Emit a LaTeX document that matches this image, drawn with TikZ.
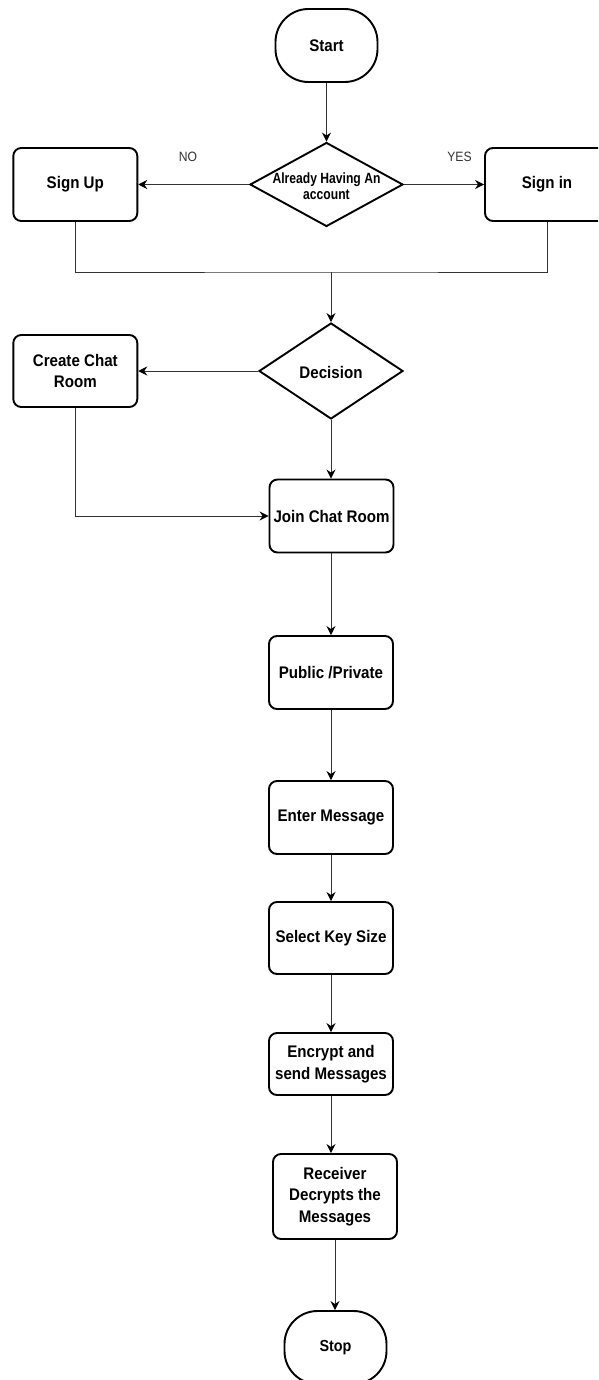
\documentclass[tikz,border=0pt]{standalone}
\usepackage{fontspec}
\setmainfont[FakeStretch=0.9]{Liberation Sans}
\newfontfamily\dfont[FakeStretch=0.82]{Liberation Sans}
\usetikzlibrary{shapes.geometric,arrows.meta}
\definecolor{conn}{HTML}{333333}
\definecolor{labc}{HTML}{333333}
\tikzset{
  box/.style={draw=black, line width=1.9pt, rounded corners=8pt, fill=white,
    minimum width=124pt, minimum height=73pt, inner sep=0pt, align=center,
    font=\fontsize{16.8}{21.5}\selectfont\bfseries},
  term/.style={box, rounded corners=33pt, minimum width=102pt},
  dia/.style={draw=black, line width=1.9pt, diamond, inner sep=0pt, fill=white},
  dtext/.style={align=center, inner sep=0pt, font=\dfont\fontsize{14.8}{16.5}\selectfont\bfseries},
  lab/.style={text=labc, inner sep=0pt, font=\fontsize{13.5}{15}\selectfont},
  conn/.style={draw=conn, line width=1pt},
  arr/.style={conn, -{Stealth[length=9pt,width=9pt,inset=3pt,color=black]}},
}
\begin{document}
\begin{tikzpicture}[x=1pt,y=-1pt]
\clip (0,0) rectangle (598,1380);
\fill[white] (0,0) rectangle (598,1380);
% nodes
\node[term] (start) at (326.5,45.5) {Start};
\node[dia, minimum width=153pt, minimum height=84pt] (d1) at (326.5,184.5) {};
\node[dtext] (d1t) at (326.5,186) {Already Having An\\account};
\node[box] (su) at (75.3,184.5) {Sign Up};
\node[box] (si) at (547,184.5) {Sign in};
\node[lab] (no) at (188,157) {NO};
\node[lab] (yes) at (459.5,157) {YES};
\node[dia, minimum width=144pt, minimum height=96pt] (dec) at (331,371) {};
\node[dtext, font=\fontsize{16.8}{20}\selectfont\bfseries] (dect) at (331,372) {Decision};
\node[box, minimum height=72pt] (ccr) at (75.3,371) {Create Chat\\Room};
\node[box] (join) at (331.5,516) {Join Chat Room};
\node[box] (pp) at (331,672.5) {Public /Private};
\node[box] (em) at (331,817.5) {Enter Message};
\node[box, minimum height=72pt] (ks) at (331,938) {Select Key Size};
\node[box, minimum height=62pt] (enc) at (331,1064) {Encrypt and\\send Messages};
\node[box, minimum height=85pt] (rec) at (335,1196.5) {Receiver\\Decrypts the\\Messages};
\node[term, font=\fontsize{16}{20}\selectfont\bfseries] (stop) at (335.5,1347.5) {Stop};
\coordinate (j) at (331,272);
% connectors
\draw[arr] (start) -- (d1);
\draw[arr] (d1.west) -- (d1.west -| su.east);
\draw[arr] (d1.east) -- (d1.east -| si.west);
\draw[conn] (su.south) |- (j) -| (si.south);
\draw[arr] (j) -- (dec.north);
\draw[arr] (dec.west) -- (dec.west -| ccr.east);
\draw[arr] (dec.south) -- (join.north -| dec.south);
\draw[arr] (ccr.south) |- (join.west);
\draw[arr] (join.south -| dec.south) -- (pp.north -| dec.south);
\draw[arr] (pp) -- (em);
\draw[arr] (em) -- (ks);
\draw[arr] (ks) -- (enc);
\draw[arr] (enc.south) -- (enc.south |- rec.north);
\draw[arr] (rec.south) -- (rec.south |- stop.north);
\end{tikzpicture}
\end{document}
